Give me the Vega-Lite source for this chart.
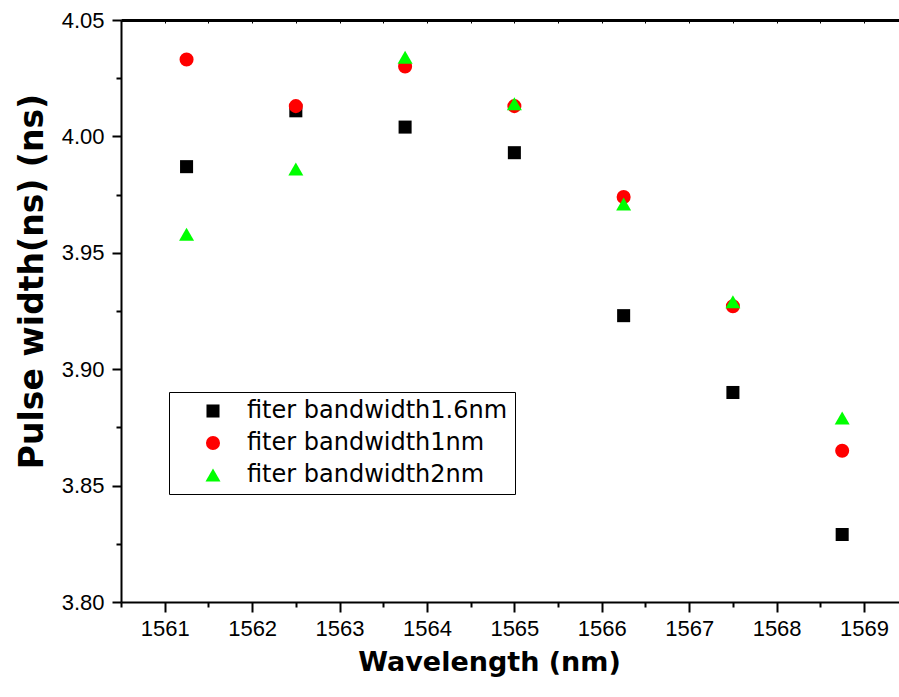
{
  "$schema": "https://vega.github.io/schema/vega-lite/v6.json",
  "width": 778,
  "height": 582,
  "autosize": {"type": "none"},
  "padding": {"left": 121, "top": 20, "right": 0, "bottom": 95},
  "background": "white",
  "config": {
    "view": {"stroke": null},
    "axis": {"labelFont": "Liberation Sans", "labelColor": "black", "domainColor": "black", "tickColor": "black", "titleColor": "black", "grid": false}
  },
  "data": {
    "values": [
      {"wl": 1561.25, "pw": 3.987, "series": "fiter bandwidth1.6nm"},
      {"wl": 1562.5, "pw": 4.011, "series": "fiter bandwidth1.6nm"},
      {"wl": 1563.75, "pw": 4.004, "series": "fiter bandwidth1.6nm"},
      {"wl": 1565.0, "pw": 3.993, "series": "fiter bandwidth1.6nm"},
      {"wl": 1566.25, "pw": 3.923, "series": "fiter bandwidth1.6nm"},
      {"wl": 1567.5, "pw": 3.890, "series": "fiter bandwidth1.6nm"},
      {"wl": 1568.75, "pw": 3.829, "series": "fiter bandwidth1.6nm"},
      {"wl": 1561.25, "pw": 4.033, "series": "fiter bandwidth1nm"},
      {"wl": 1562.5, "pw": 4.013, "series": "fiter bandwidth1nm"},
      {"wl": 1563.75, "pw": 4.030, "series": "fiter bandwidth1nm"},
      {"wl": 1565.0, "pw": 4.013, "series": "fiter bandwidth1nm"},
      {"wl": 1566.25, "pw": 3.974, "series": "fiter bandwidth1nm"},
      {"wl": 1567.5, "pw": 3.927, "series": "fiter bandwidth1nm"},
      {"wl": 1568.75, "pw": 3.865, "series": "fiter bandwidth1nm"},
      {"wl": 1561.25, "pw": 3.958, "series": "fiter bandwidth2nm"},
      {"wl": 1562.5, "pw": 3.986, "series": "fiter bandwidth2nm"},
      {"wl": 1563.75, "pw": 4.034, "series": "fiter bandwidth2nm"},
      {"wl": 1565.0, "pw": 4.014, "series": "fiter bandwidth2nm"},
      {"wl": 1566.25, "pw": 3.971, "series": "fiter bandwidth2nm"},
      {"wl": 1567.5, "pw": 3.929, "series": "fiter bandwidth2nm"},
      {"wl": 1568.75, "pw": 3.879, "series": "fiter bandwidth2nm"}
    ]
  },
  "layer": [
    {
      "mark": {"type": "point", "filled": true, "opacity": 1, "strokeWidth": 0},
      "encoding": {
        "x": {
          "field": "wl", "type": "quantitative",
          "scale": {"domain": [1560.5, 1569.4], "nice": false, "zero": false},
          "axis": {
            "orient": "bottom",
            "values": [1560.5, 1561, 1561.5, 1562, 1562.5, 1563, 1563.5, 1564, 1564.5, 1565, 1565.5, 1566, 1566.5, 1567, 1567.5, 1568, 1568.5, 1569],
            "labelExpr": "datum.value % 1 === 0 ? format(datum.value, 'd') : ''",
            "labelOverlap": false,
            "labelFlush": false,
            "labelFontSize": 22,
            "labelPadding": 6,
            "domainWidth": 2,
            "tickWidth": 2,
            "tickSize": {"condition": {"test": "datum.value % 1 === 0", "value": 10}, "value": 5},
            "title": "Wavelength (nm)",
            "titleFont": "DejaVu Sans",
            "titleFontWeight": "bold",
            "titleFontSize": 27,
            "titleX": 368,
            "titleY": 68,
            "titleBaseline": "alphabetic"
          }
        },
        "y": {
          "field": "pw", "type": "quantitative",
          "scale": {"domain": [3.8, 4.05], "nice": false, "zero": false},
          "axis": {
            "orient": "left",
            "values": [3.8, 3.825, 3.85, 3.875, 3.9, 3.925, 3.95, 3.975, 4.0, 4.025, 4.05],
            "labelExpr": "abs(datum.value * 20 - round(datum.value * 20)) < 0.01 ? format(datum.value, '.2f') : ''",
            "labelOverlap": false,
            "labelFlush": false,
            "labelFontSize": 22,
            "labelPadding": 8,
            "domainWidth": 2,
            "tickWidth": 2,
            "tickSize": {"condition": {"test": "abs(datum.value * 20 - round(datum.value * 20)) < 0.01", "value": 9}, "value": 5},
            "title": "Pulse width(ns) (ns)",
            "titleFont": "DejaVu Sans",
            "titleFontWeight": "bold",
            "titleFontSize": 33,
            "titleX": -79,
            "titleY": 261,
            "titleBaseline": "alphabetic"
          }
        },
        "shape": {
          "field": "series", "type": "nominal",
          "scale": {"domain": ["fiter bandwidth1.6nm", "fiter bandwidth1nm", "fiter bandwidth2nm"], "range": ["square", "circle", "triangle-up"]},
          "legend": {
            "title": null,
            "orient": "none",
            "legendX": 48,
            "legendY": 372,
            "strokeColor": "black",
            "fillColor": "white",
            "padding": 7,
            "labelFont": "DejaVu Sans",
            "labelFontSize": 24,
            "labelColor": "black",
            "labelLimit": 0,
            "rowPadding": 8,
            "symbolOffset": 25,
            "labelOffset": 22,
            "symbolStrokeWidth": 0
          }
        },
        "color": {
          "field": "series", "type": "nominal",
          "scale": {"domain": ["fiter bandwidth1.6nm", "fiter bandwidth1nm", "fiter bandwidth2nm"], "range": ["#000000", "#ff0000", "#00ff00"]}
        },
        "size": {
          "field": "series", "type": "nominal",
          "scale": {"domain": ["fiter bandwidth1.6nm", "fiter bandwidth1nm", "fiter bandwidth2nm"], "range": [170, 225, 300]}
        }
      }
    },
    {
      "mark": {"type": "point", "opacity": 0},
      "encoding": {
        "x": {
          "field": "wl", "type": "quantitative",
          "axis": {
            "orient": "top",
            "values": [1560.5, 1561, 1561.5, 1562, 1562.5, 1563, 1563.5, 1564, 1564.5, 1565, 1565.5, 1566, 1566.5, 1567, 1567.5, 1568, 1568.5, 1569],
            "labels": false,
            "title": null,
            "domainWidth": 3,
            "tickWidth": 1,
            "tickSize": -3
          }
        },
        "y": {"field": "pw", "type": "quantitative", "axis": null}
      }
    }
  ],
  "resolve": {"axis": {"x": "independent", "y": "independent"}}
}
